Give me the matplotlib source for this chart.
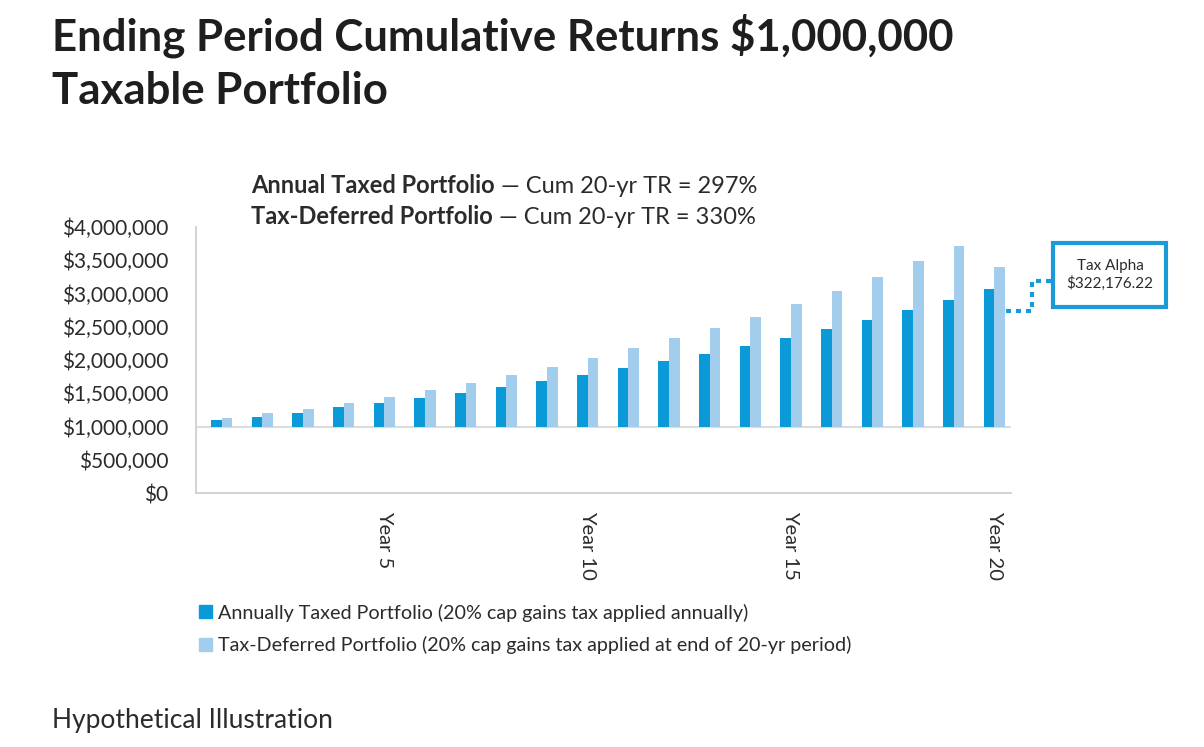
import matplotlib.pyplot as plt
import numpy as np
from matplotlib.patches import Patch, Rectangle
from matplotlib.lines import Line2D
from matplotlib.ticker import FuncFormatter

plt.rcParams['font.family'] = ['Lato', 'DejaVu Sans']

## Datos
years = list(range(1, 21))
taxed = [1.098, 1.143, 1.203, 1.293, 1.353, 1.429, 1.504, 1.594, 1.684, 1.774,
         1.880, 1.985, 2.090, 2.211, 2.331, 2.466, 2.602, 2.752, 2.902, 3.072]
deferred = [1.128, 1.203, 1.263, 1.353, 1.444, 1.549, 1.654, 1.774, 1.895, 2.030,
            2.180, 2.331, 2.481, 2.647, 2.842, 3.038, 3.248, 3.489, 3.714, 3.394]
taxed = [v * 1e6 for v in taxed]
deferred = [v * 1e6 for v in deferred]
base = 1e6
tick_years = [5, 10, 15, 20]
yticks = [0, 500000, 1000000, 1500000, 2000000, 2500000, 3000000, 3500000, 4000000]

dark = '#0a9ad8'
light = '#a3cdec'
txt = '#2b2b2b'

fig = plt.figure(figsize=(12.04, 7.47), dpi=100)
ax = fig.add_axes([196/1204, 1-493/747, (1011-196)/1204, (493-227)/747])

x = np.arange(len(years))
w = 0.265
ax.bar(x - w/2, [t - base for t in taxed], w, bottom=base, color=dark)
ax.bar(x + w/2, [d - base for d in deferred], w, bottom=base, color=light)
ax.axhline(base, color='#dcdcdc', lw=1.5, zorder=0)

ax.set_xlim(-0.63, 19.41)
ax.set_ylim(0, 4e6)
ax.set_yticks(yticks)
ax.yaxis.set_major_formatter(FuncFormatter(lambda v, p: '${:,.0f}'.format(v)))
ax.set_xticks([years.index(y) for y in tick_years])
ax.set_xticklabels(['Year %d' % y for y in tick_years], rotation=270, va='top', ha='center')
ax.tick_params(axis='both', length=0, colors=txt)
ax.tick_params(axis='y', pad=20, labelsize=15)
ax.tick_params(axis='x', pad=13, labelsize=14.5)
for s in ['top', 'right']:
    ax.spines[s].set_visible(False)
for s in ['left', 'bottom']:
    ax.spines[s].set_color('#cfcfcf')
    ax.spines[s].set_linewidth(1.3)

# Titulo
fig.text(52/1204, 1-14/747, 'Ending Period Cumulative Returns $1,000,000\nTaxable Portfolio',
         fontsize=31.5, fontweight='bold', color='#1e1e1e', va='top', linespacing=1.38)

# Subtitulos con parte en negrita
t1 = fig.text(251/1204, 1-193/747, 'Annual Taxed Portfolio', fontsize=17, fontweight='bold', color=txt)
ax.annotate(' \u2014 Cum 20-yr TR = 297%', xy=(1, 0), xycoords=t1, fontsize=17, color=txt, va='bottom')
t2 = fig.text(251/1204, 1-224/747, 'Tax-Deferred Portfolio', fontsize=17, fontweight='bold', color=txt)
ax.annotate(' \u2014 Cum 20-yr TR = 330%', xy=(1, 0), xycoords=t2, fontsize=17, color=txt, va='bottom')

# Leyenda
handles = [Patch(color=dark, label='Annually Taxed Portfolio (20% cap gains tax applied annually)'),
           Patch(color=light, label='Tax-Deferred Portfolio (20% cap gains tax applied at end of 20-yr period)')]
leg = fig.legend(handles=handles, loc='upper left', bbox_to_anchor=(181/1204, 1-586/747),
                 frameon=False, fontsize=14.2, handlelength=0.65, handleheight=0.65,
                 handletextpad=0.35, labelspacing=0.72)
for t in leg.get_texts():
    t.set_color(txt)

# Caja Tax Alpha
fig.patches.append(Rectangle((1053/1204, 1-307/747), 113/1204, 64/747, transform=fig.transFigure,
                             fill=False, edgecolor='#1a9ad6', lw=3))
fig.text(1110/1204, 1-275/747, 'Tax Alpha\n$322,176.22', ha='center', va='center',
         fontsize=11, color=txt, linespacing=1.3)
fig.lines.append(Line2D([1006/1204, 1032/1204, 1032/1204, 1052/1204],
                        [1-311/747, 1-311/747, 1-281/747, 1-281/747], transform=fig.transFigure,
                        color='#1a9ad6', lw=3, ls=(0, (1.2, 1.2))))

fig.text(52/1204, 1-733/747, 'Hypothetical Illustration', fontsize=19, color=txt, va='bottom')

plt.savefig('out.png')
